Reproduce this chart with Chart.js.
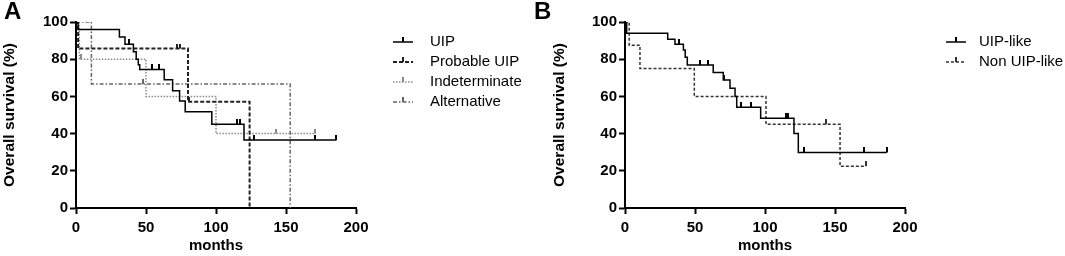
<!DOCTYPE html>
<html lang="en">
<head>
<meta charset="UTF-8">
<title>Overall survival</title>
<style>
  body { margin: 0; background: #fff; }
  #wrap { position: relative; width: 1065px; height: 256px; }
  #chartA { position: absolute; left: 0; top: 0; }
  #chartB { position: absolute; left: 530px; top: 0; }
  .tag { position: absolute; top: -3px; font: bold 24px Arial, "Liberation Sans", sans-serif; color: #000; }
</style>
</head>
<body>
<div id="wrap">
  <canvas id="chartA" width="530" height="256"></canvas>
  <canvas id="chartB" width="535" height="256"></canvas>
  <div class="tag" style="left:4px">A</div>
  <div class="tag" style="left:534px">B</div>
</div>

<script src="https://cdn.jsdelivr.net/npm/chart.js"></script>
<script>
// panel A - months at each step, survival (%) after the step
const uipMonths = [0, 1.5, 31, 35, 41, 43, 44.5, 45.5, 63, 69, 74, 78, 97, 120, 186];
const uipSurv = [100, 96, 92, 88, 84, 80, 77, 74.5, 69, 63, 57.5, 51.7, 45, 36.5, 36.5];
const uipCensor = [38, 54, 59, 115, 117, 127, 171, 186];

const probMonths = [0, 1.5, 80, 124];
const probSurv = [100, 85.7, 57.1, 0];
const probCensor = [72, 74.5, 81];

const indetMonths = [0, 2.4, 50, 100, 171];
const indetSurv = [100, 80, 60, 40, 40];
const indetCensor = [3.6, 143, 171];

const altMonths = [0, 11, 153];
const altSurv = [100, 66.7, 0];
const altCensor = [47.6];

// panel B
const likeMonths = [0, 1.2, 30.5, 35.7, 41.7, 43, 44.5, 63, 70.2, 75, 78.6, 79.8, 96.9, 120.7, 123.8, 187];
const likeSurv = [100, 93.9, 90.7, 88, 85, 81, 76.9, 72.8, 68.8, 64.4, 59.9, 54.1, 48.2, 40.1, 29.9, 29.9];
const likeCensor = [38.6, 53.6, 59.5, 71, 82.9, 89.8, 115, 116.6, 127.9, 170.7, 186.9];

const nonMonths = [0, 3, 10.7, 49.5, 100.7, 153.6, 172];
const nonSurv = [100, 87.5, 75, 60, 45, 22.5, 22.5];
const nonCensor = [143.6, 172];

const xTicks = [0, 50, 100, 150, 200];
const yTicks = [0, 20, 40, 60, 80, 100];

const FONT = 'Arial, "Liberation Sans", Helvetica, sans-serif';

const survAt = (months, surv, t) => {
    let v = surv[0];
    for (let i = 0; i < months.length; i++) {
        if (months[i] <= t) v = surv[i];
    }
    return v;
};

// small upward tick used for censored points
const tickImg = (color) => {
    const c = document.createElement('canvas');
    c.width = 2; c.height = 10;
    const g = c.getContext('2d');
    g.fillStyle = color;
    g.fillRect(0, 0, 2, 5);
    return c;
};

const curve = (label, months, surv, censor, color, dash, width) => [
    {
        label: label,
        data: months.map((m, i) => ({ x: m, y: surv[i] })),
        stepped: 'before',
        borderColor: color,
        borderWidth: width,
        borderDash: dash,
        pointRadius: 0,
        fill: false
    },
    {
        label: label + ' censored',
        censor: true,
        data: censor.map(t => ({ x: t, y: survAt(months, surv, t) })),
        showLine: false,
        pointStyle: tickImg(color),
        pointRadius: 5
    }
];

const kmLegend = {
    id: 'kmLegend',
    afterDraw(chart, args, opts) {
        const ctx = chart.ctx;
        const items = chart.data.datasets.filter(d => !d.censor);
        ctx.save();
        items.forEach((d, i) => {
            const y = opts.y + i * opts.gap;
            ctx.strokeStyle = d.borderColor;
            ctx.lineWidth = d.borderWidth;
            ctx.setLineDash(d.borderDash || []);
            ctx.beginPath();
            ctx.moveTo(opts.x, y);
            ctx.lineTo(opts.x + 20, y);
            ctx.stroke();
            ctx.setLineDash([]);
            ctx.lineWidth = 2;
            ctx.beginPath();
            ctx.moveTo(opts.x + 10, y);
            ctx.lineTo(opts.x + 10, y - 5);
            ctx.stroke();
            ctx.fillStyle = '#000';
            ctx.font = '15px ' + FONT;
            ctx.textBaseline = 'middle';
            ctx.fillText(d.label, opts.x + opts.textGap, y);
        });
        ctx.restore();
    }
};

const drawKM = (target, datasets, yWidth, pad, legend) => {
    new Chart(document.getElementById(target), {
        type: 'line',
        data: { datasets: datasets },
        plugins: [kmLegend],
        options: {
            responsive: false,
            animation: false,
            layout: { padding: pad },
            plugins: {
                legend: { display: false },
                tooltip: { enabled: false },
                kmLegend: legend
            },
            scales: {
                x: {
                    type: 'linear',
                    min: 0, max: 200,
                    afterFit: s => { s.height = 48; },
                    afterBuildTicks: s => { s.ticks = xTicks.map(v => ({ value: v })); },
                    border: { color: '#000', width: 2 },
                    grid: { drawOnChartArea: false, tickLength: 6, tickWidth: 2, tickColor: '#000' },
                    ticks: { color: '#000', padding: 5, maxRotation: 0, font: { family: FONT, size: 15, weight: 'bold' } },
                    title: { display: true, text: 'months', color: '#000', padding: { top: 0, bottom: 1 }, font: { family: FONT, size: 15, weight: 'bold' } }
                },
                y: {
                    min: 0, max: 100,
                    afterFit: s => { s.width = yWidth; },
                    afterBuildTicks: s => { s.ticks = yTicks.map(v => ({ value: v })); },
                    border: { color: '#000', width: 2 },
                    grid: { drawOnChartArea: false, tickLength: 6, tickWidth: 2, tickColor: '#000' },
                    ticks: { color: '#000', padding: 2, font: { family: FONT, size: 15, weight: 'bold' } },
                    title: { display: true, text: 'Overall survival (%)', color: '#000', padding: { top: 0, bottom: 0 }, font: { family: FONT, size: 15.5, weight: 'bold' } }
                }
            }
        }
    });
};

drawKM('chartA', [
    ...curve('UIP', uipMonths, uipSurv, uipCensor, '#000', [], 1.5),
    ...curve('Probable UIP', probMonths, probSurv, probCensor, '#222', [4, 2], 2),
    ...curve('Indeterminate', indetMonths, indetSurv, indetCensor, '#8a8a8a', [1.5, 1.5], 1.5),
    ...curve('Alternative', altMonths, altSurv, altCensor, '#666', [4, 2, 1.5, 2], 1.5)
], 76, { left: 0, right: 174, top: 22, bottom: 0 }, { x: 393, y: 42, gap: 20, textGap: 37 });

drawKM('chartB', [
    ...curve('UIP-like', likeMonths, likeSurv, likeCensor, '#000', [], 1.5),
    ...curve('Non UIP-like', nonMonths, nonSurv, nonCensor, '#333', [3, 2], 1.5)
], 75, { left: 20, right: 160, top: 22, bottom: 0 }, { x: 416, y: 42, gap: 20, textGap: 33 });
</script>
</body>
</html>
